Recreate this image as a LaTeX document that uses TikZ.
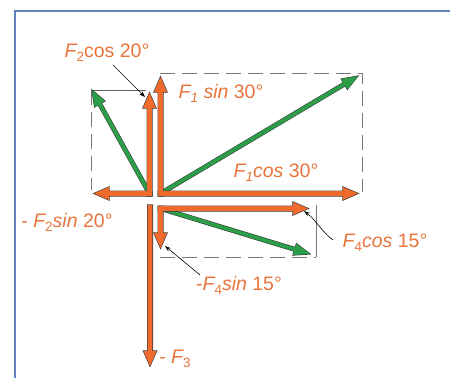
\documentclass[tikz,border=0pt]{standalone}
\usepackage{fontspec}
\setmainfont{Liberation Sans}
\usetikzlibrary{arrows.meta,calc}
\definecolor{vorange}{RGB}{240,106,44}
\definecolor{torange}{RGB}{232,116,58}
\definecolor{vgreen}{RGB}{44,158,72}
\definecolor{edge}{RGB}{55,55,55}
\definecolor{frameblue}{RGB}{96,132,186}
\definecolor{dashgray}{RGB}{120,120,120}
\newcommand\vecar[6]{%
  \path (#2); \pgfgetlastxy{\vax}{\vay}%
  \path (#3); \pgfgetlastxy{\vbx}{\vby}%
  \pgfmathsetmacro\vang{atan2(\vby-\vay,\vbx-\vax)}%
  \pgfmathsetmacro\vlen{veclen(\vbx-\vax,\vby-\vay)}%
  \path[#1,shift={(#2)},rotate=\vang,x=1pt,y=1pt] (0,-#4) -- ({\vlen-#6},-#4) -- ({\vlen-#6},-#5) -- (\vlen,0) -- ({\vlen-#6},#5) -- ({\vlen-#6},#4) -- (0,#4) -- cycle;%
}
\newcommand\oar[3]{\vecar{#1}{#2}{#3}{2.4}{6.5}{15}}
\newcommand\gar[3]{\vecar{#1}{#2}{#3}{1.9}{6}{16}}
\newcommand\sub[1]{\raisebox{-0.4ex}{\fontsize{13.5}{14}\selectfont #1}}
\tikzset{
  outl/.style={draw=edge,line width=1.2pt,line join=miter},
  ofill/.style={fill=vorange},
  gout/.style={draw=edge,line width=1.1pt,line join=miter},
  gfill/.style={fill=vgreen},
  lbl/.style={text=torange,font=\fontsize{19.5}{22}\selectfont,inner sep=1pt},
  dashbox/.style={draw=dashgray,line width=1pt,dash pattern=on 15pt off 7pt},
  pointer/.style={draw=black,line width=0.6pt,-{Stealth[length=6pt,width=4pt]}}
}
\begin{document}
\begin{tikzpicture}[x=1pt,y=-1pt]
\useasboundingbox (0,0) rectangle (450,378);
\draw[frameblue,line width=1.4pt] (15,378) -- (15,11) -- (450,11);
% corners and tips
\coordinate (ul) at (149.5,193.5);
\coordinate (ulv) at (149.5,195.9);
\coordinate (ulh) at (151.9,193.5);
\coordinate (ur) at (160.5,193.5);
\coordinate (urv) at (160.5,195.9);
\coordinate (urh) at (158.1,193.5);
\coordinate (ll) at (150,205);
\coordinate (lr) at (160.5,208.5);
\coordinate (lrv) at (160.5,206.1);
\coordinate (lrh) at (158.1,208.5);
\coordinate (f2c) at (149.5,93);
\coordinate (f2s) at (94,193.5);
\coordinate (f2) at (92,90);
\coordinate (f1s) at (160.5,77);
\coordinate (f1c) at (358,193.5);
\coordinate (f1) at (358,76);
\coordinate (f3) at (150,366);
\coordinate (f4c) at (308,208.5);
\coordinate (f4s) at (160.5,248);
\coordinate (f4) at (310,254);
% component boxes
\draw[draw=edge!80,line width=0.9pt] (92,90) -- (146,90);
\draw[dashbox] (91,90) -- (91,190);
\draw[dashbox] (160,73) -- (362,73) -- (362,192);
\draw[dashbox] (160,257) -- (316,257);
\draw[draw=dashgray,line width=1pt] (316,205) -- (316,257);
% green resultant vectors
\gar{gout}{ul}{f2}
\gar{gout}{ur}{f1}
\gar{gout}{lr}{f4}
\gar{gfill}{ul}{f2}
\gar{gfill}{ur}{f1}
\gar{gfill}{lr}{f4}
% orange components: outlines then fills
\oar{outl}{ulv}{f2c}
\oar{outl}{ulh}{f2s}
\oar{outl}{urv}{f1s}
\oar{outl}{urh}{f1c}
\oar{outl}{ll}{f3}
\oar{outl}{lrv}{f4s}
\oar{outl}{lrh}{f4c}
\oar{ofill}{ulv}{f2c}
\oar{ofill}{ulh}{f2s}
\oar{ofill}{urv}{f1s}
\oar{ofill}{urh}{f1c}
\oar{ofill}{ll}{f3}
\oar{ofill}{lrv}{f4s}
\oar{ofill}{lrh}{f4c}
% labels
\node[lbl] (lf2c) at (107,53) {\itshape F\upshape\sub{2}cos 20°};
\node[lbl] (lf1s) at (221,93) {\itshape F\sub{1} sin \upshape 30°};
\node[lbl] (lf1c) at (276,173) {\itshape F\sub{1}cos \upshape 30°};
\node[lbl] (lf2s) at (67,222) {- \itshape F\sub{\upshape 2}sin \upshape 20°};
\node[lbl] (lf4s) at (239,285) {-\itshape F\sub{\upshape 4}sin \upshape 15°};
\node[lbl] (lf4c) at (385,243) {\itshape F\sub{\upshape 4}cos \upshape 15°};
\node[lbl] (lf3) at (175,359) {- \itshape F\sub{\upshape 3}};
% pointers
\coordinate (p1) at (113,65);
\coordinate (p1e) at (145,97);
\coordinate (p2) at (200,275);
\coordinate (p2e) at (165,246);
\coordinate (p3) at (333,240);
\coordinate (p3e) at (304,211);
\draw[pointer] (p1) -- (p1e);
\draw[pointer] (p2) -- (p2e);
\draw[pointer] (p3) .. controls (322,232) and (316,220) .. (p3e);
\end{tikzpicture}
\end{document}
